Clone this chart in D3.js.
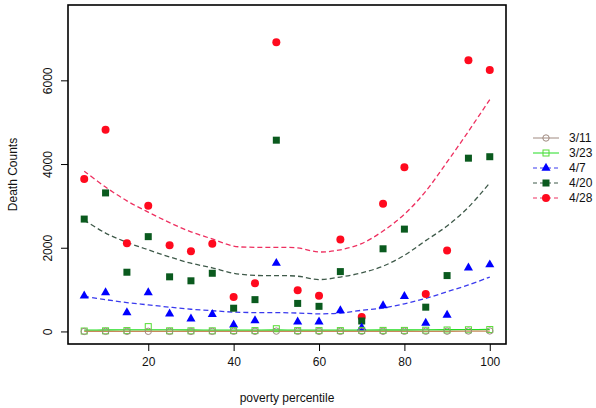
<!DOCTYPE html>
<html>
<head>
<meta charset="utf-8">
<script src="https://cdn.jsdelivr.net/npm/d3@7"></script>
<style>
  body { margin: 0; background: #fff; }
  text { font-family: "Liberation Sans", Arial, sans-serif; fill: #111; }
</style>
</head>
<body>
<svg id="chart" width="596" height="408"></svg>
<script>
// values
var percentile = [5, 10, 15, 20, 25, 30, 35, 40, 45, 50, 55, 60, 65, 70, 75, 80, 85, 90, 95, 100];
var deaths0311 = [0, 2, 2, 3, 1, 1, 2, 4, 3, 8, 3, 2, 2, 3, 3, 4, 5, 6, 10, 12];
var deaths0323 = [10, 15, 20, 115, 15, 15, 15, 20, 20, 65, 20, 20, 20, 25, 25, 25, 30, 35, 40, 45];
var deaths0407 = [850, 930, 450, 930, 420, 300, 410, 160, 260, 1630, 230, 230, 500, 90, 620, 840, 200, 390, 1520, 1595];
var deaths0420 = [2685, 3310, 1415, 2265, 1305, 1210, 1390, 555, 760, 4570, 670, 600, 1430, 250, 1975, 2445, 580, 1335, 4140, 4175];
var deaths0428 = [3645, 4820, 2105, 3005, 2060, 1915, 2095, 825, 1150, 6910, 985, 855, 2195, 345, 3050, 3925, 895, 1935, 6480, 6245];

var fit0311 = [2, 2, 2, 2, 2, 2, 2, 2, 2, 2, 2, 2, 2, 2, 2, 2, 3, 4, 6, 8];
var fit0323 = [32, 34, 36, 38, 36, 34, 33, 32, 33, 34, 33, 32, 32, 33, 34, 35, 37, 40, 44, 48];
var fit0407 = [840, 760, 690, 635, 580, 530, 495, 462, 450, 450, 440, 420, 440, 505, 560, 660, 790, 950, 1110, 1300];
var fit0420 = [2660, 2350, 2130, 1950, 1780, 1630, 1520, 1390, 1340, 1335, 1320, 1240, 1300, 1400, 1560, 1820, 2170, 2520, 2970, 3550];
var fit0428 = [3830, 3450, 3120, 2850, 2600, 2380, 2210, 2040, 2010, 2010, 1995, 1900, 1950, 2100, 2400, 2800, 3350, 4050, 4780, 5540];

var seriesNames = ['3/11', '3/23', '4/7', '4/20', '4/28'];
var xTicks = [20, 40, 60, 80, 100];
var yTicks = [0, 2000, 4000, 6000];

var series = [
  { name: '3/11', values: deaths0311, fitted: fit0311, col: '#a08a80', fit: '#c8885a', shape: 'circle', dash: null, order: 1 },
  { name: '3/23', values: deaths0323, fitted: fit0323, col: '#55dd33', fit: '#22dd22', shape: 'square', dash: null, order: 0 },
  { name: '4/7', values: deaths0407, fitted: fit0407, col: '#0000ff', fit: '#3a3aee', shape: 'triangle', dash: '5,3', order: 2 },
  { name: '4/20', values: deaths0420, fitted: fit0420, col: '#0a5a1e', fit: '#3f5a4a', shape: 'fsquare', dash: '5,3', order: 3 },
  { name: '4/28', values: deaths0428, fitted: fit0428, col: '#ff0a1e', fit: '#ee3060', shape: 'dot', dash: '5,3', order: 4 }
];

var margin = { top: 5, right: 90, bottom: 64, left: 68 };
var width = 596 - margin.left - margin.right;
var height = 408 - margin.top - margin.bottom;

var svg = d3.select('#chart');
var g = svg.append('g').attr('transform', 'translate(' + margin.left + ',' + margin.top + ')');

var x = d3.scaleLinear().domain([1.2, 103.8]).range([0, width]);
var y = d3.scaleLinear().domain([-300, 7800]).range([height, 0]);

var symbol = function(sel, shape, col) {
  if (shape === 'circle') {
    sel.append('circle').attr('r', 3.2).attr('fill', 'none').attr('stroke', col).attr('stroke-width', 1);
  } else if (shape === 'square') {
    sel.append('rect').attr('x', -3).attr('y', -3).attr('width', 6).attr('height', 6)
      .attr('fill', 'none').attr('stroke', col).attr('stroke-width', 1);
  } else if (shape === 'triangle') {
    sel.append('path').attr('d', d3.symbol(d3.symbolTriangle, 36)()).attr('fill', col);
  } else if (shape === 'fsquare') {
    sel.append('rect').attr('x', -3.5).attr('y', -3.5).attr('width', 7).attr('height', 7).attr('fill', col);
  } else {
    sel.append('circle').attr('r', 4).attr('fill', col);
  }
};

var line = d3.line()
  .x(function(d, i) { return x(percentile[i]); })
  .y(function(d) { return y(d); })
  .curve(d3.curveCatmullRom);

// fitted curves (3/11 drawn over 3/23 so both show near zero)
series.slice().sort(function(a, b) { return a.order - b.order; }).forEach(function(s) {
  g.append('path').datum(s.fitted).attr('d', line)
    .attr('fill', 'none').attr('stroke', s.fit).attr('stroke-width', 1.3)
    .attr('stroke-dasharray', s.dash);
});

// points, drawn from last to first so the low series sit on top near zero
series.slice().reverse().forEach(function(s) {
  percentile.forEach(function(p, i) {
    var m = g.append('g').attr('transform', 'translate(' + x(p) + ',' + y(s.values[i]) + ')');
    symbol(m, s.shape, s.col);
  });
});

// frame
g.append('rect').attr('width', width).attr('height', height)
  .attr('fill', 'none').attr('stroke', '#000').attr('stroke-width', 1.6);

// axes
var xAxis = g.append('g').attr('transform', 'translate(0,' + height + ')')
  .call(d3.axisBottom(x).tickValues(xTicks).tickSize(7).tickPadding(6));
var yAxis = g.append('g')
  .call(d3.axisLeft(y).tickValues(yTicks).tickFormat(d3.format('d')).tickSize(7).tickPadding(4));
[xAxis, yAxis].forEach(function(a) {
  a.select('.domain').remove();
  a.selectAll('line').attr('stroke', '#000');
  a.selectAll('text').style('font-size', '12px').style('font-family', '"Liberation Sans", Arial, sans-serif');
});
yAxis.selectAll('text')
  .attr('transform', 'rotate(-90)')
  .attr('x', 0).attr('y', -20).attr('dy', '0.32em')
  .style('text-anchor', 'middle');

svg.append('text').attr('x', margin.left + width / 2).attr('y', 402)
  .attr('text-anchor', 'middle').style('font-size', '12px').text('poverty percentile');
svg.append('text').attr('transform', 'translate(17,' + (margin.top + height / 2) + ') rotate(-90)')
  .attr('text-anchor', 'middle').style('font-size', '12px').text('Death Counts');

// legend
var legend = svg.append('g').attr('transform', 'translate(533,138)');
series.forEach(function(s, i) {
  var row = legend.append('g').attr('transform', 'translate(0,' + (i * 15) + ')');
  row.append('line').attr('x1', 0).attr('x2', 26).attr('y1', 0).attr('y2', 0)
    .attr('stroke', s.name === '3/11' ? '#a08a80' : s.fit).attr('stroke-width', 1)
    .attr('stroke-dasharray', s.dash ? '4,3' : null);
  var m = row.append('g').attr('transform', 'translate(13,0)');
  symbol(m, s.shape, s.col);
  row.append('text').attr('x', 36).attr('y', 0).attr('dy', '0.35em')
    .style('font-size', '12px').text(seriesNames[i]);
});
</script>
</body>
</html>
